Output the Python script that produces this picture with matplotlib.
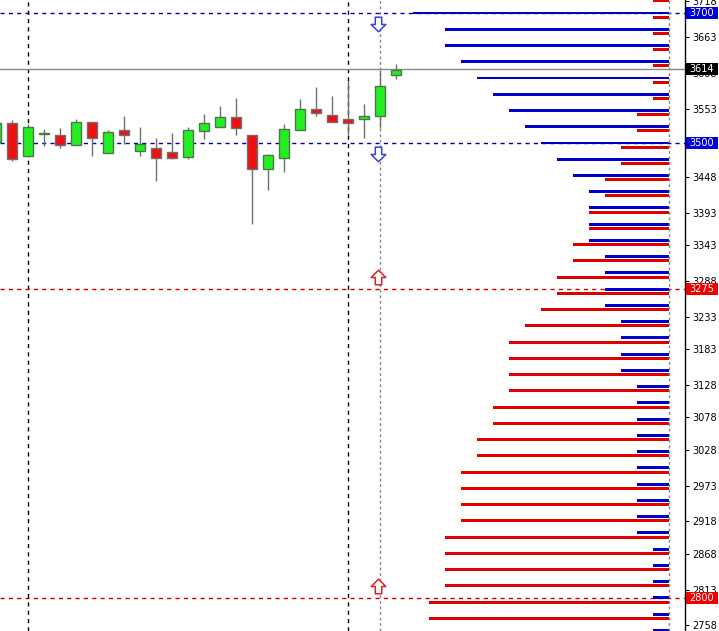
import matplotlib
matplotlib.use("Agg")
import matplotlib.pyplot as plt
import numpy as np
from matplotlib.path import Path
from matplotlib.patches import Rectangle
import matplotlib.transforms as mtransforms

# ---------------- data ----------------
opens  = [3501, 3530, 3480, 3514, 3513, 3497, 3532, 3484, 3520, 3487, 3493, 3486, 3478,
          3518, 3524, 3540, 3512, 3460, 3477, 3520, 3552, 3543, 3537, 3537, 3541, 3604]
highs  = [3531, 3535, 3529, 3521, 3523, 3537, 3533, 3520, 3542, 3524, 3507, 3515, 3524,
          3544, 3557, 3569, 3513, 3483, 3529, 3567, 3586, 3573, 3595, 3560, 3612, 3621]
lows   = [3499, 3472, 3478, 3496, 3492, 3497, 3480, 3484, 3498, 3480, 3441, 3475, 3475,
          3506, 3524, 3512, 3375, 3427, 3455, 3520, 3541, 3533, 3512, 3507, 3523, 3599]
closes = [3530, 3475, 3524, 3515, 3497, 3533, 3507, 3517, 3513, 3498, 3477, 3477, 3520,
          3530, 3540, 3523, 3460, 3481, 3521, 3553, 3546, 3533, 3530, 3541, 3587, 3613]

levels = [3725, 3700, 3675, 3650, 3625, 3600, 3575, 3550, 3525, 3500, 3475, 3450, 3425,
          3400, 3375, 3350, 3325, 3300, 3275, 3250, 3225, 3200, 3175, 3150, 3125, 3100,
          3075, 3050, 3025, 3000, 2975, 2950, 2925, 2900, 2875, 2850, 2825, 2800, 2775, 2750]
blue_vol = [16, 16, 14, 14, 13, 12, 11, 10, 9, 8, 7, 6, 5,
            5, 5, 5, 4, 4, 4, 4, 3, 3, 3, 3, 2, 2,
            2, 2, 2, 2, 2, 2, 2, 2, 1, 1, 1, 1, 1, 1]
red_vol  = [1, 1, 1, 1, 1, 1, 1, 2, 2, 3, 3, 4, 4,
            5, 5, 6, 6, 7, 7, 8, 9, 10, 10, 10, 10, 11,
            11, 12, 12, 13, 13, 13, 13, 14, 14, 14, 14, 15, 15, 15]

tick_vals = [3718, 3663, 3608, 3553, 3498, 3448, 3393, 3343, 3288, 3233, 3183, 3128,
             3078, 3028, 2973, 2918, 2868, 2813, 2758]

current_price = 3614
blue_lines = [3700, 3500]
red_lines = [3275, 2800]
vlines_black = [2, 22]
vline_gray = 24

# ---------------- figure ----------------
W, H = 719, 631
fig = plt.figure(figsize=(W / 100, H / 100), dpi=100)
axw = 685 / W
ax = fig.add_axes([0, 0, axw, 1])
ax.set_facecolor("white")

ax.set_xlim(0.25, 43.0625)
ax.set_ylim(2749.2, 3720)

# candles
GREEN = "#22EE22"
RED = "#EE1111"
x = np.arange(len(opens))
for i in range(len(opens)):
    o, h, l, c = opens[i], highs[i], lows[i], closes[i]
    up = c >= o
    ax.vlines(x[i], l, h, color="#707070", lw=1, zorder=2)
    ax.bar(x[i], max(abs(c - o), 1.2), bottom=min(o, c), width=0.62,
           color=GREEN if up else RED,
           edgecolor="#4a7a4a" if up else "#707070", linewidth=1, zorder=3)

# vertical lines
for v in vlines_black:
    ax.axvline(v, color="black", lw=1, ls=(0, (3, 3)), zorder=1)
ax.axvline(vline_gray, color="#888888", lw=1, ls=(0, (2, 2)), zorder=1)

# horizontal lines
for lv in blue_lines:
    ax.axhline(lv, color="#0000AA", lw=1, ls=(0, (3, 3)), zorder=1)
for lv in red_lines:
    ax.axhline(lv, color="#CC0000", lw=1, ls=(0, (3, 3)), zorder=1)
ax.axhline(current_price, color="#888888", lw=1, zorder=1)

# arrows
down = Path([(-0.22, 0.5), (0.22, 0.5), (0.22, 0.0), (0.5, 0.0), (0.0, -0.5),
             (-0.5, 0.0), (-0.22, 0.0), (-0.22, 0.5)], closed=True)
up_p = Path([(-0.22, -0.5), (0.22, -0.5), (0.22, 0.0), (0.5, 0.0), (0.0, 0.5),
             (-0.5, 0.0), (-0.22, 0.0), (-0.22, -0.5)], closed=True)
for lv in blue_lines:
    tr = mtransforms.offset_copy(ax.transData, fig=fig, x=-1.5, y=-8, units="points")
    ax.plot([vline_gray], [lv], marker=down, ms=10.5, mfc="white", mec="#3344DD",
            mew=1.1, transform=tr, zorder=6, clip_on=False)
for lv in red_lines:
    tr = mtransforms.offset_copy(ax.transData, fig=fig, x=-1.5, y=8.5, units="points")
    ax.plot([vline_gray], [lv], marker=up_p, ms=10.5, mfc="white", mec="#DD2222",
            mew=1.1, transform=tr, zorder=6, clip_on=False)

# right axis
ax.yaxis.tick_right()
ax.set_yticks(tick_vals)
ax.set_yticklabels([str(t) for t in tick_vals])
ax.tick_params(axis="y", labelsize=7, length=3, pad=2, colors="black", width=0.8)
ax.tick_params(axis="x", bottom=False, labelbottom=False)
for s in ["top", "left", "bottom"]:
    ax.spines[s].set_visible(False)
ax.spines["right"].set_color("black")
ax.spines["right"].set_linewidth(1)

# volume-profile bars on twin x axis
ax2 = ax.twiny()
ax2.set_xlim(41.8125, -1)
ax2.set_ylim(ax.get_ylim())
lv_arr = np.array(levels, dtype=float)
ax2.barh(lv_arr, blue_vol, left=0, height=4.6, color="#0000CC", zorder=4)
ax2.barh(lv_arr - 6.2, red_vol, left=0, height=4.6, color="#E00000", zorder=4)
ax2.axvline(0, color="#888888", lw=1, ls=(0, (2, 2)), zorder=5)
ax2.set_xticks([])
for s in ax2.spines.values():
    s.set_visible(False)
ax2.spines["right"].set_visible(False)

# price label boxes
blend = mtransforms.blended_transform_factory(ax.transAxes, ax.transData)
box_w = 32 / 685
box_h = 12 * (3720 - 2749.2) / 631
labels = [(3700, "#0000DD"), (current_price, "#000000"), (3500, "#0000DD"),
          (3275, "#EE0000"), (2800, "#EE0000")]
for val, col in labels:
    ax.add_patch(Rectangle((1.0015, val - box_h / 2), box_w, box_h, transform=blend,
                           facecolor=col, edgecolor="none", clip_on=False, zorder=10))
    ax.text(1.0015 + box_w / 2, val, str(val), transform=blend, color="white",
            fontsize=7, ha="center", va="center", clip_on=False, zorder=11)

fig.savefig("out.png", dpi=100)
